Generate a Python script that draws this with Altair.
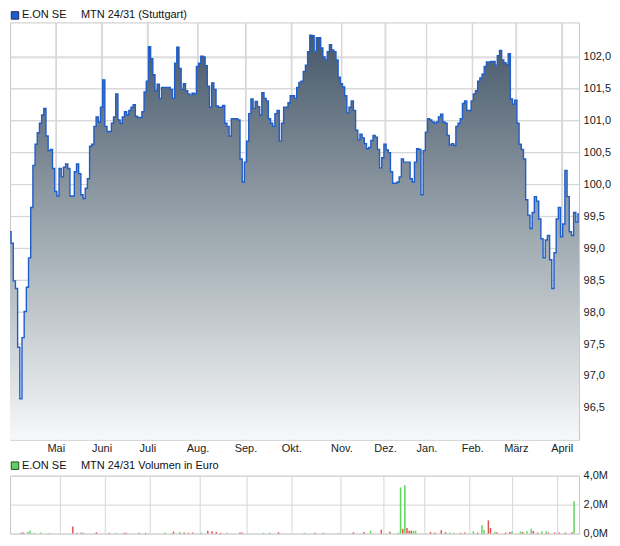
import json
import altair as alt
import pandas as pd

# ---------------- data ----------------
issuer = "E.ON SE"
title_price = "MTN 24/31 (Stuttgart)"
title_volume = "MTN 24/31 Volumen in Euro"

# daily closing prices per month (Apr 2024 .. Apr 2025)
apr24 = [99.26, 99.08, 98.49, 98.37, 97.45, 96.64, 97.60, 98.01, 98.39, 98.85,
         99.64, 100.30, 100.63, 100.81, 100.96, 101.09, 101.19, 100.76, 100.53,
         100.55, 100.25]
mai = [99.89, 99.82, 100.25, 100.12, 100.27, 100.32, 100.25, 99.82, 99.82, 100.20,
       100.32, 100.17, 99.84, 99.78, 99.94, 100.09, 100.60, 100.63, 100.91, 101.06,
       100.98]
juni = [101.21, 101.64, 100.91, 100.83, 100.83, 100.96, 101.06, 101.42, 101.01,
        100.96, 101.06, 101.14, 101.09, 101.16, 101.21, 101.25, 101.07, 101.05,
        101.05, 101.14, 101.45]
juli = [101.62, 102.16, 101.97, 101.72, 101.47, 101.57, 101.35, 101.52, 101.52,
        101.52, 101.52, 101.49, 101.35, 101.90, 102.15, 101.82, 101.49, 101.58,
        101.47, 101.42, 101.40, 101.43, 101.42]
aug = [101.85, 101.90, 102.01, 102.00, 101.86, 101.54, 101.21, 101.59, 101.49,
       101.23, 101.21, 101.21, 101.24, 100.96, 100.91, 100.76, 101.03, 101.03,
       101.03, 101.01, 100.40, 100.04]
sep = [100.35, 100.68, 101.11, 101.34, 101.19, 101.30, 101.22, 101.09, 101.44,
       101.35, 101.31, 101.03, 100.96, 100.91, 101.11, 101.16, 100.68, 100.96,
       101.21, 101.21, 101.28]
okt = [101.39, 101.39, 101.35, 101.52, 101.60, 101.62, 101.77, 101.87, 102.08,
       102.34, 102.33, 102.09, 102.30, 102.30, 102.14, 102.00, 101.95, 102.08,
       102.19, 102.11, 102.08, 101.95, 101.68]
nov = [101.58, 101.53, 101.39, 101.12, 101.21, 101.31, 101.16, 100.85, 100.70,
       100.79, 100.73, 100.64, 100.56, 100.58, 100.69, 100.77, 100.74, 100.55,
       100.26, 100.42]
dez = [100.63, 100.54, 100.50, 100.20, 100.02, 100.02, 100.04, 100.12, 100.40,
       100.35, 100.35, 100.35, 100.09, 100.04, 100.35, 100.56, 100.55, 99.84,
       100.53]
jan = [100.82, 101.03, 101.01, 100.98, 100.96, 100.98, 101.06, 101.10, 100.98,
       100.96, 100.77, 100.62, 100.64, 100.61, 100.91, 100.96, 101.03, 101.27,
       101.31, 101.16, 101.16]
feb = [101.31, 101.42, 101.47, 101.62, 101.67, 101.73, 101.85, 101.92, 101.92,
       101.93, 101.93, 101.87, 102.02, 102.10, 101.95, 101.91, 101.88, 102.05,
       101.34, 101.26]
maerz = [101.32, 100.96, 100.63, 100.55, 100.40, 99.76, 99.52, 99.31, 99.56,
         99.81, 99.74, 99.46, 99.15, 98.85, 99.13, 99.20, 98.82, 98.37, 98.93,
         99.46, 99.64]
apr25 = [99.18, 99.38, 100.22, 99.81, 99.26, 99.20, 99.56, 99.41, 99.54]

month_names = ["Mai", "Juni", "Juli", "Aug.", "Sep.", "Okt.", "Nov.", "Dez.",
               "Jan.", "Feb.", "März", "April"]
month_series = [apr24, mai, juni, juli, aug, sep, okt, nov, dez, jan, feb, maerz, apr25]

y_domain = [96.0, 102.54]
y_ticks = [96.5, 97.0, 97.5, 98.0, 98.5, 99.0, 99.5, 100.0, 100.5, 101.0, 101.5, 102.0]
vol_ticks = [0, 2, 4]

# volume bars: trading-day index, volume in Mio. Euro, G = up day, R = down day
vol_idx = [3, 4, 6, 7, 9, 12, 16, 27, 29, 31, 32, 38, 44, 47, 51, 52, 58, 61,
           70, 74, 77, 79, 81, 83, 87, 90, 92, 94, 96, 99, 105, 106, 116, 119, 123,
           135, 140, 144, 151, 158, 163, 166, 171, 175, 179, 180, 181, 182, 183,
           184, 185, 186, 187, 194, 196, 199, 201, 203, 205, 208, 210, 214, 216,
           218, 219, 221, 222, 224, 225, 229, 231, 232, 236, 237, 239, 241, 242,
           244, 246, 248, 249, 252, 254, 257, 260, 261]
vol_mio = [0.07, 0.07, 0.11, 0.20, 0.05, 0.07, 0.02, 0.48, 0.05, 0.07, 0.05, 0.09,
           0.05, 0.05, 0.05, 0.05, 0.05, 0.05, 0.07, 0.14, 0.11, 0.07, 0.05, 0.07,
           0.07, 0.20, 0.16, 0.11, 0.05, 0.05, 0.07, 0.07, 0.05, 0.07, 0.09,
           0.05, 0.05, 0.05, 0.02, 0.09, 0.11, 0.20, 0.27, 0.13, 0.07, 3.18, 0.33,
           3.33, 0.38, 0.20, 0.20, 0.20, 0.20, 0.11, 0.07, 0.23, 0.09, 0.07, 0.05,
           0.05, 0.07, 0.16, 0.07, 0.57, 0.25, 0.91, 0.39, 0.11, 0.09, 0.07, 0.11,
           0.14, 0.14, 0.11, 0.16, 0.34, 0.18, 0.07, 0.16, 0.14, 0.07, 0.07, 0.07,
           0.07, 0.09, 2.24]
vol_dir = ["R", "R", "G", "G", "G", "G", "R", "R", "R", "R", "G", "R",
           "R", "G", "R", "R", "R", "R", "G", "R", "G", "R", "R", "R",
           "G", "R", "R", "R", "R", "G", "R", "R", "G", "G", "R",
           "G", "R", "R", "R", "R", "R", "G", "R", "R", "G", "G", "R",
           "G", "R", "R", "R", "G", "G", "R", "R", "R", "R", "G", "G",
           "R", "R", "G", "R", "G", "G", "R", "R", "G", "R", "R", "R",
           "G", "G", "R", "G", "G", "R", "R", "G", "G", "R", "R", "R",
           "R", "R", "G"]

# ---------------- tables ----------------
prices = [v for m in month_series for v in m]
n_days = len(prices)
month_starts = []
pos = 0
for m in month_series[:-1]:
    pos += len(m)
    month_starts.append(pos)

price_df = pd.DataFrame({"i": list(range(n_days)), "kurs": prices})
vol_df = pd.DataFrame({"i": vol_idx, "mio": vol_mio, "dir": vol_dir})
gridx_df = pd.DataFrame({"i": month_starts})
gridy_df = pd.DataFrame({"kurs": y_ticks})
head_price = pd.DataFrame({"name": [issuer], "desc": [title_price]})
head_vol = pd.DataFrame({"name": [issuer], "desc": [title_volume]})

# ---------------- styling ----------------
FONT = "Liberation Sans"
W, H1, H2 = 570, 418, 58
GRID = "#d6d6d6"
LINE_BLUE = "#1f5dc9"
GREEN = "#5cd65c"
RED = "#e05252"

month_expr = "{}[indexof({}, datum.value)]".format(
    json.dumps(month_names, ensure_ascii=False), json.dumps(month_starts))
comma_expr = "replace(format(datum.value, '.1f'), '.', ',')"

x_scale = alt.Scale(domain=[0, n_days - 1], nice=False, zero=False)

x_top = alt.X("i:Q", scale=x_scale, axis=alt.Axis(
    values=month_starts, labelExpr=month_expr, title=None, grid=True,
    gridColor=GRID, ticks=False, domain=False, labelPadding=3, labelFontSize=11,
    labelColor="#222222", labelFont=FONT, labelFlush=False, labelOverlap=False))
y_top = alt.Y("kurs:Q", scale=alt.Scale(domain=y_domain, nice=False, zero=False),
              axis=alt.Axis(orient="right", values=y_ticks, labelExpr=comma_expr,
                            title=None, ticks=False, domain=False, grid=True,
                            gridColor=GRID, labelPadding=4, labelFontSize=11,
                            labelColor="#222222", labelFont=FONT,
                            labelOverlap=False))

grid_v = alt.Chart(gridx_df).mark_rule(
    color=GRID, strokeWidth=1, opacity=1).encode(x=x_top)
grid_h = alt.Chart(gridy_df).mark_rule(
    color=GRID, strokeWidth=1, opacity=1).encode(y=y_top)

base = alt.Chart(price_df).encode(x=x_top, y=y_top)

area = base.mark_area(
    interpolate="step", opacity=1, clip=True,
    color=alt.Gradient(gradient="linear",
                       stops=[alt.GradientStop(color="#47586a", offset=0),
                              alt.GradientStop(color="#9faab1", offset=0.5),
                              alt.GradientStop(color="#f7f8f9", offset=1)],
                       x1=1, x2=1, y1=0, y2=1)
).encode(y2=alt.datum(y_domain[0]))

line = base.mark_line(interpolate="step", color=LINE_BLUE, strokeWidth=1.4, clip=True)

sq_top = alt.Chart(head_price).mark_square(
    size=56, fill=LINE_BLUE, stroke="#1b2c63", strokeWidth=1, opacity=1
).encode(x=alt.value(5), y=alt.value(-7))
name_top = alt.Chart(head_price).mark_text(
    align="left", baseline="middle", font=FONT, fontSize=11, color="#111111"
).encode(x=alt.value(12), y=alt.value(-7), text="name:N")
desc_top = alt.Chart(head_price).mark_text(
    align="left", baseline="middle", font=FONT, fontSize=11, color="#111111"
).encode(x=alt.value(71), y=alt.value(-7), text="desc:N")

top = alt.layer(grid_v, grid_h, area, line, sq_top, name_top, desc_top).properties(
    width=W, height=H1)

bars = alt.Chart(vol_df).mark_bar(size=1.5).encode(
    x=alt.X("i:Q", scale=x_scale, axis=alt.Axis(
        values=month_starts, labels=False, ticks=False, domain=False, grid=True,
        gridColor=GRID, title=None)),
    y=alt.Y("mio:Q", scale=alt.Scale(domain=[0, 4], nice=False),
            axis=alt.Axis(orient="right", values=vol_ticks,
                          labelExpr=comma_expr + " + 'M'", title=None, ticks=False,
                          domain=False, grid=True, gridColor=GRID, labelPadding=4,
                          labelFontSize=11, labelColor="#222222", labelFont=FONT,
                          labelOverlap=False)),
    color=alt.Color("dir:N", scale=alt.Scale(domain=["G", "R"], range=[GREEN, RED]),
                    legend=None),
)

sq_vol = alt.Chart(head_vol).mark_square(
    size=56, fill="#66cc66", stroke="#1e4d1e", strokeWidth=1, opacity=1
).encode(x=alt.value(5), y=alt.value(-10))
name_vol = alt.Chart(head_vol).mark_text(
    align="left", baseline="middle", font=FONT, fontSize=11, color="#111111"
).encode(x=alt.value(12), y=alt.value(-10), text="name:N")
desc_vol = alt.Chart(head_vol).mark_text(
    align="left", baseline="middle", font=FONT, fontSize=11, color="#111111"
).encode(x=alt.value(71), y=alt.value(-10), text="desc:N")

vol = alt.layer(bars, sq_vol, name_vol, desc_vol).properties(width=W, height=H2)

chart = alt.vconcat(top, vol, spacing=4).resolve_scale(
    x="independent", y="independent"
).properties(padding=0, background="white").configure_view(
    stroke="#c8c8c8", strokeWidth=1
).configure_axis(labelOverlap=False)

chart.save("out.html", embed_options={"renderer": "svg", "actions": False})
